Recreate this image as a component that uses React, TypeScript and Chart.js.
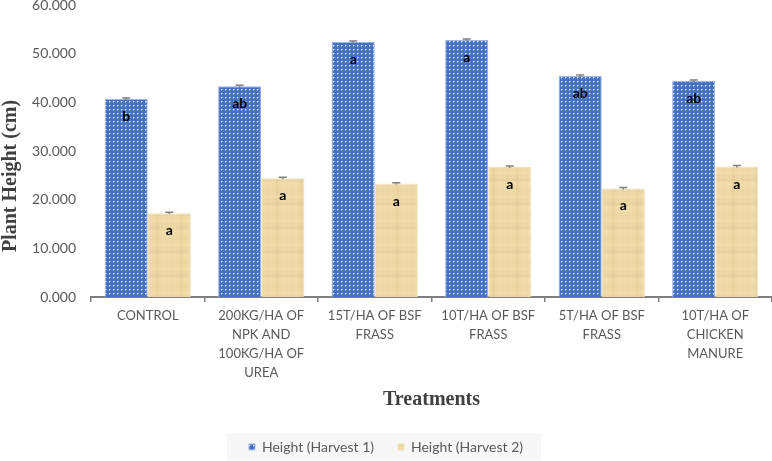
import React, { useEffect, useRef } from 'react';
import { Chart, registerables } from 'chart.js';

Chart.register(...registerables);

// Treatments on the x axis (multi-line labels)
const categories: string[][] = [
  ['CONTROL'],
  ['200KG/HA OF', 'NPK AND', '100KG/HA OF', 'UREA'],
  ['15T/HA OF BSF', 'FRASS'],
  ['10T/HA OF BSF', 'FRASS'],
  ['5T/HA OF BSF', 'FRASS'],
  ['10T/HA OF', 'CHICKEN', 'MANURE'],
];

// Mean plant height (cm)
const harvest1 = [40.7, 43.3, 52.4, 52.8, 45.4, 44.4];
const harvest2 = [17.2, 24.4, 23.3, 26.7, 22.3, 26.8];

// Standard errors
const harvest1Err = [0.2, 0.2, 0.2, 0.2, 0.2, 0.2];
const harvest2Err = [0.2, 0.2, 0.2, 0.2, 0.2, 0.2];

// Mean separation letters
const harvest1Letters = ['b', 'ab', 'a', 'a', 'ab', 'ab'];
const harvest2Letters = ['a', 'a', 'a', 'a', 'a', 'a'];

const seriesNames = ['Height (Harvest 1)', 'Height (Harvest 2)'];

const yMin = 0;
const yMax = 60;
const yStep = 10;

const TEXT_GREY = '#595959';
const TITLE_GREY = '#404040';
const AXIS_GREY = '#7f7f7f';

function makeDotPattern(): CanvasPattern | string {
  const c = document.createElement('canvas');
  c.width = 4;
  c.height = 4;
  const g = c.getContext('2d');
  if (!g) return '#4472c4';
  g.fillStyle = '#4472c4';
  g.fillRect(0, 0, 4, 4);
  g.fillStyle = '#8ea7dc';
  g.fillRect(2, 1, 1, 1);
  g.fillRect(1, 2, 1, 1);
  g.fillStyle = '#f4f7fd';
  g.fillRect(1, 1, 1, 1);
  const p = g.createPattern(c, 'repeat');
  return p || '#4472c4';
}

// Papyrus-like texture: warm tan with soft horizontal fibres
const fibreShades = [0, -4, 2, -1, 3, -6, 1, 0, -3, 4, -2, 1, -5, 2, 0, -1, 3, -4, 1, -2, 0, 2, -3, 1];
function makePapyrusPattern(): CanvasPattern | string {
  const w = 48;
  const h = 48;
  const c = document.createElement('canvas');
  c.width = w;
  c.height = h;
  const g = c.getContext('2d');
  if (!g) return '#edd7a3';
  for (let y = 0; y < h; y++) {
    const d = fibreShades[(y * 7) % fibreShades.length];
    g.fillStyle = `rgb(${238 + d}, ${216 + d}, ${165 + d})`;
    g.fillRect(0, y, w, 1);
  }
  for (let x = 0; x < w; x += 6) {
    const d = fibreShades[(x * 5) % fibreShades.length];
    g.fillStyle = `rgba(${d < 0 ? '200,170,110' : '250,235,200'}, 0.12)`;
    g.fillRect(x, 0, 3, h);
  }
  const p = g.createPattern(c, 'repeat');
  return p || '#edd7a3';
}

const errorsBySeries = [harvest1Err, harvest2Err];
const lettersBySeries = [harvest1Letters, harvest2Letters];

const annotationPlugin = {
  id: 'errorBarsAndLetters',
  afterDatasetsDraw(chart: any) {
    const { ctx } = chart;
    const yScale = chart.scales.y;
    chart.data.datasets.forEach((ds: any, di: number) => {
      const meta = chart.getDatasetMeta(di);
      meta.data.forEach((bar: any, i: number) => {
        const v = ds.data[i] as number;
        const e = errorsBySeries[di][i];
        const yHi = yScale.getPixelForValue(v + e);
        const yLo = yScale.getPixelForValue(v - e);
        ctx.save();
        ctx.strokeStyle = '#808080';
        ctx.lineWidth = 1.5;
        ctx.beginPath();
        ctx.moveTo(bar.x, yHi);
        ctx.lineTo(bar.x, yLo);
        ctx.moveTo(bar.x - 4, yHi);
        ctx.lineTo(bar.x + 4, yHi);
        ctx.stroke();
        ctx.fillStyle = '#000000';
        ctx.font = 'bold 14px Lato';
        ctx.textAlign = 'center';
        ctx.textBaseline = 'alphabetic';
        ctx.fillText(lettersBySeries[di][i], bar.x, bar.y + 22);
        ctx.restore();
      });
    });
  },
};

const legendBackdropPlugin = {
  id: 'legendBackdrop',
  beforeDraw(chart: any) {
    const boxes = chart.legend && chart.legend.legendHitBoxes;
    if (!boxes || !boxes.length) return;
    const first = boxes[0];
    const last = boxes[boxes.length - 1];
    const cy = first.top + first.height / 2;
    const { ctx } = chart;
    ctx.save();
    ctx.fillStyle = '#f7f7f7';
    ctx.fillRect(first.left - 22, cy - 14, last.left + last.width - first.left + 40, 27);
    ctx.restore();
  },
};

const yTitlePlugin = {
  id: 'yAxisTitle',
  afterDraw(chart: any) {
    const y = chart.scales.y;
    const { ctx } = chart;
    ctx.save();
    ctx.translate(11, (y.top + y.bottom) / 2 + 25);
    ctx.rotate(-Math.PI / 2);
    ctx.fillStyle = TITLE_GREY;
    ctx.font = 'bold 20px "Liberation Serif"';
    ctx.textAlign = 'center';
    ctx.textBaseline = 'middle';
    ctx.fillText('Plant Height (cm)', 0, 0);
    ctx.restore();
  },
};

export default function App() {
  const canvasRef = useRef<HTMLCanvasElement | null>(null);

  useEffect(() => {
    document.body.style.margin = '0';
    const canvas = canvasRef.current;
    if (!canvas) return;

    const chart = new Chart(canvas, {
      type: 'bar',
      data: {
        labels: categories,
        datasets: [
          {
            label: seriesNames[0],
            data: harvest1,
            backgroundColor: makeDotPattern() as any,
            borderColor: '#9fb6e4',
            borderWidth: 1,
            categoryPercentage: 0.76,
            barPercentage: 1,
          },
          {
            label: seriesNames[1],
            data: harvest2,
            backgroundColor: makePapyrusPattern() as any,
            borderColor: '#f2e0b8',
            borderWidth: 1,
            categoryPercentage: 0.76,
            barPercentage: 1,
          },
        ],
      },
      options: {
        responsive: false,
        animation: false,
        layout: { padding: { top: 0, left: 0, right: 0, bottom: -3 } },
        plugins: {
          legend: {
            display: true,
            position: 'bottom',
            labels: {
              boxWidth: 6,
              boxHeight: 6,
              padding: 24,
              color: TEXT_GREY,
              font: { family: 'Lato', size: 14 },
            },
          },
          tooltip: { enabled: false },
        },
        scales: {
          x: {
            grid: {
              display: true,
              drawOnChartArea: false,
              drawTicks: true,
              tickLength: 5,
              color: AXIS_GREY,
              lineWidth: 1.5,
              offset: true,
            },
            border: { display: true, color: AXIS_GREY, width: 2 },
            ticks: {
              color: TEXT_GREY,
              font: { family: 'Lato', size: 13, lineHeight: 1.46 },
              padding: 4,
              autoSkip: false,
              maxRotation: 0,
              minRotation: 0,
            },
            title: {
              display: true,
              text: 'Treatments',
              color: TITLE_GREY,
              font: { family: 'Liberation Serif', size: 20, weight: 'bold', lineHeight: 1.2 },
              padding: { top: 4, bottom: 4 },
            },
            afterFit: (s: any) => {
              s.height = 119;
            },
          },
          y: {
            min: yMin,
            max: yMax,
            grid: { display: false, drawTicks: false },
            border: { display: false },
            ticks: {
              stepSize: yStep,
              color: TEXT_GREY,
              font: { family: 'Lato', size: 14 },
              padding: 15,
              callback: (v: any) => Number(v).toFixed(3),
            },
            afterFit: (s: any) => {
              s.width = 91;
              s.paddingTop = 5;
              s.paddingBottom = 0;
            },
          },
        },
      },
      plugins: [legendBackdropPlugin, annotationPlugin, yTitlePlugin],
    });

    return () => chart.destroy();
  }, []);

  return (
    <div style={{ width: 772, height: 461 }}>
      <canvas ref={canvasRef} width={772} height={461} />
    </div>
  );
}
